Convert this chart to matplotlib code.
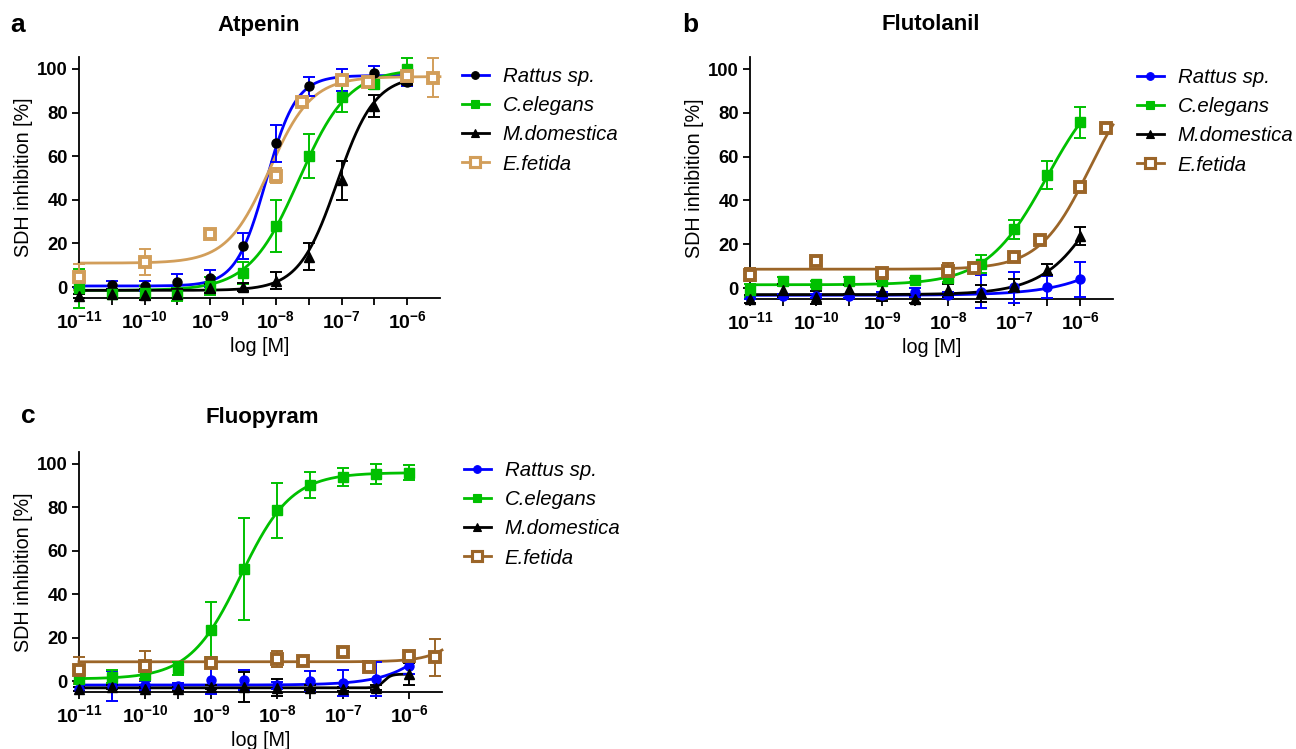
import numpy as np
import matplotlib
matplotlib.use('Agg')
from matplotlib import pyplot as plt
from matplotlib.lines import Line2D

plt.rcParams['font.family'] = ['Liberation Sans', 'DejaVu Sans']
plt.rcParams['mathtext.fontset'] = 'custom'
plt.rcParams['mathtext.rm'] = 'Liberation Sans'
plt.rcParams['mathtext.bf'] = 'Liberation Sans:bold'
plt.rcParams['mathtext.it'] = 'Liberation Sans:italic'

# log10 of concentration [M]
log_conc = [-11, -10.5, -10, -9.5, -9, -8.5, -8, -7.5, -7, -6.5, -6]
log_conc_ef = [-11, -10, -9, -8, -7.6, -7, -6.6, -6, -5.6]

species = ['Rattus sp.', 'C.elegans', 'M.domestica', 'E.fetida']

# Atpenin
atp_rattus = [1, 1, 0.5, 2.5, 4, 19, 66, 92, 95, 98, 94]
atp_rattus_err = [1.5, 2, 2.5, 3.5, 4, 6, 8.5, 4.5, 5, 3.5, 2]
atp_celegans = [-0.5, -3, -2.5, -3.5, 0.5, 6.5, 28, 60, 87, 93, 100]
atp_celegans_err = [9, 2, 3, 3, 4, 5, 12, 10, 6.5, 2, 5]
atp_mdom = [-4, -3, -3.5, -3, -0.5, 0, 3, 14, 49, 83, 95]
atp_mdom_err = [1, 2, 2.5, 2, 2, 2, 4, 6, 9, 5, 2]
atp_efet = [4.5, 11.5, 24.5, 51, 85, 95, 94, 97, 96]
atp_efet_err = [6, 6, 2, 3.5, 1, 2, 1, 1.5, 9]
# fit params: bottom, top, logIC50, hill
atp_fits = [(0.5, 97, -8.15, 1.9), (-1.5, 100, -7.65, 1.15),
            (-1.5, 97, -7.07, 1.5), (11, 96.5, -8.1, 1.35)]

# Flutolanil
flu_rattus = [-4, -3.5, -3.5, -3.5, -3.2, -2, -3.2, -1.7, 0.3, 0.6, 4.1]
flu_rattus_err = [1, 1, 1, 1, 1.5, 2, 1.5, 7.5, 7, 5, 8]
flu_celegans = [-1, 3, 1.8, 3.4, 3, 3.7, 4.6, 11, 26.8, 51.5, 75.7]
flu_celegans_err = [3, 2, 1.5, 1.5, 1, 1, 2, 4, 4.2, 6.3, 7]
flu_mdom = [-5, -1, -4.3, -0.5, -1.2, -5, -1, -2.4, 1, 8.4, 23.7]
flu_mdom_err = [2, 3, 3, 2, 4.5, 2, 3, 4, 3, 2.5, 4]
flu_efet = [6.1, 12.2, 6.9, 8, 9.2, 14, 22, 46.2, 73.2]
flu_efet_err = [3, 1, 1, 3.5, 1, 1, 1, 1, 1]
flu_fits = [(-3.3, 100, -4.5, 0.75), (1.5, 100, -6.5, 0.95),
            (-3, 100, -5.5, 0.95), (8.6, 100, -5.86, 1.15)]

# Fluopyram
fpy_rattus = [-3.5, -2.3, -2, -2.3, 0.3, 0.6, -2, 0, -0.8, 1, 7.2]
fpy_rattus_err = [1, 7, 2, 1.5, 6, 4.6, 1.5, 4.6, 6, 8, 4]
fpy_celegans = [0.8, 2.1, 2.9, 6, 23.7, 51.8, 78.7, 90.5, 94, 95.4, 96]
fpy_celegans_err = [2, 3, 2, 3, 12.7, 23.5, 12.6, 6, 4, 4.5, 3.4]
fpy_mdom = [-3.5, -2.8, -3.8, -3.5, -2.8, -2.8, -3, -3, -3.5, -3, 3.4]
fpy_mdom_err = [1, 1, 1, 1, 1, 7, 4, 1, 1, 1, 5]
fpy_efet = [5.2, 7.2, 8.3, 10.2, 9.5, 13.3, 6.4, 11.8, 11]
fpy_efet_err = [6, 6.5, 1, 3.8, 1, 1, 1, 2, 8.6]
fpy_fits = [(-1.8, 100, -5, 1), (1, 96, -8.55, 1.13),
            (-3.1, 3.2, -6.38, 8), (8.9, 100, -4.7, 1.5)]

BLUE = '#0000ff'
GREEN = '#00c000'
TAN = '#d29e5a'
BROWN = '#9b6528'


def four_pl(x, bottom, top, logic50, hill):
    return bottom + (top - bottom) / (1 + 10 ** ((logic50 - x) * hill))


fig = plt.figure(figsize=(12.96, 7.49), dpi=100)
W, H = 1296, 749


def px_axes(l, t, r, b):
    return fig.add_axes([l / W, 1 - b / H, (r - l) / W, (b - t) / H])


def draw_panel(ax, data, fits, ef_color, rattus_marker_color):
    styles = [
        dict(line=BLUE, mfc=rattus_marker_color, mec=rattus_marker_color, marker='o', ms=6.5, mew=1),
        dict(line=GREEN, mfc=GREEN, mec=GREEN, marker='s', ms=6.5, mew=1),
        dict(line='black', mfc='black', mec='black', marker='^', ms=6.5, mew=1),
        dict(line=ef_color, mfc='white', mec=ef_color, marker='s', ms=7.8, mew=2.8),
    ]
    handles = []
    for i, ((xs, ys, es), fit, st) in enumerate(zip(data, fits, styles)):
        x_end = -5.5 if i == 3 else -6
        xc = np.linspace(-11, x_end, 400)
        ax.plot(10 ** xc, four_pl(xc, *fit), color=st['line'], lw=2, zorder=2,
                clip_on=False)
        xv = 10 ** np.array(xs)
        ax.errorbar(xv, ys, yerr=es, fmt='none', ecolor=st['line'], elinewidth=1.4,
                    capsize=4, capthick=1.4, zorder=3, clip_on=False)
        ax.plot(xv, ys, ls='none', marker=st['marker'], ms=st['ms'], mfc=st['mfc'],
                mec=st['mec'], mew=st['mew'], zorder=4, clip_on=False)
        handles.append(Line2D([], [], color=st['line'], lw=2, marker=st['marker'],
                              ms=st['ms'] * 0.85, mfc=st['mfc'], mec=st['mec'],
                              mew=st['mew'] * 0.8))

    ax.set_xscale('log')
    ax.set_xlim(1e-11, 10 ** -5.5)
    ax.set_ylim(-5, 105.5)
    ax.spines['top'].set_visible(False)
    ax.spines['right'].set_visible(False)
    for s in ('left', 'bottom'):
        ax.spines[s].set_linewidth(1.3)
    decades = np.arange(-11, -5)
    ax.set_xticks(10.0 ** decades)
    ax.set_xticklabels([r'$\mathbf{10^{%d}}$' % d for d in decades])
    ax.set_xticks(10.0 ** (decades + 0.5)[:-1], minor=True)
    ax.tick_params(axis='x', which='both', length=5, width=1.3, labelsize=14, pad=4)
    ax.set_yticks([0, 20, 40, 60, 80, 100])
    ax.tick_params(axis='y', length=5, width=1.3, labelsize=13.3, pad=3)
    for lab in ax.get_yticklabels():
        lab.set_fontweight('bold')
    ax.set_ylabel('SDH inhibition [%]', fontsize=14.2, labelpad=3)
    ax.set_xlabel('log [M]', fontsize=14.2, labelpad=3)
    return handles


panels = [
    dict(box=(79, 57, 440, 298), title='Atpenin', letter='a', lpos=(18, 25),
         tpos=(259, 25), leg=(462, 67), fits=atp_fits, ef=TAN, rm='black',
         data=[(log_conc, atp_rattus, atp_rattus_err),
               (log_conc, atp_celegans, atp_celegans_err),
               (log_conc, atp_mdom, atp_mdom_err),
               (log_conc_ef, atp_efet, atp_efet_err)]),
    dict(box=(750, 57, 1113, 299), title='Flutolanil', letter='b', lpos=(690, 25),
         tpos=(931, 24), leg=(1137, 68), fits=flu_fits, ef=BROWN, rm=BLUE,
         data=[(log_conc, flu_rattus, flu_rattus_err),
               (log_conc, flu_celegans, flu_celegans_err),
               (log_conc, flu_mdom, flu_mdom_err),
               (log_conc_ef, flu_efet, flu_efet_err)]),
    dict(box=(79, 452, 442, 692), title='Fluopyram', letter='c', lpos=(28, 416),
         tpos=(262, 418), leg=(464, 461), fits=fpy_fits, ef=BROWN, rm=BLUE,
         data=[(log_conc, fpy_rattus, fpy_rattus_err),
               (log_conc, fpy_celegans, fpy_celegans_err),
               (log_conc, fpy_mdom, fpy_mdom_err),
               (log_conc_ef, fpy_efet, fpy_efet_err)]),
]

for p in panels:
    ax = px_axes(*p['box'])
    handles = draw_panel(ax, p['data'], p['fits'], p['ef'], p['rm'])
    fig.text(p['tpos'][0] / W, 1 - p['tpos'][1] / H, p['title'], fontsize=16,
             fontweight='bold', ha='center', va='center')
    fig.text(p['lpos'][0] / W, 1 - p['lpos'][1] / H, p['letter'], fontsize=19,
             fontweight='bold', ha='center', va='center')
    leg = ax.legend(handles, species, loc='upper left',
                    bbox_to_anchor=(p['leg'][0] / W, 1 - p['leg'][1] / H),
                    bbox_transform=fig.transFigure, frameon=False, borderpad=0,
                    borderaxespad=0, handlelength=1.3, handletextpad=0.7,
                    labelspacing=0.5, prop=dict(size=14.7, style='italic'))

fig.savefig('out.png', dpi=100)
